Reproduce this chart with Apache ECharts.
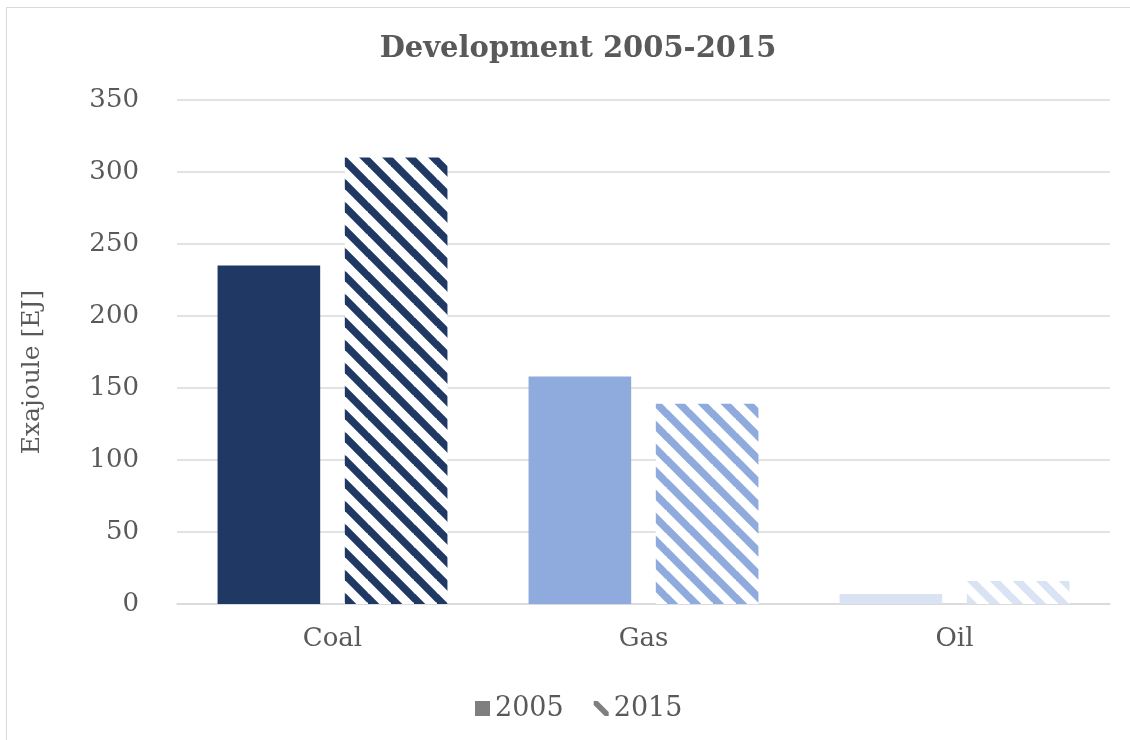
<!DOCTYPE html>
<html>
<head>
<meta charset="utf-8">
<script src="https://cdn.jsdelivr.net/npm/echarts@6/dist/echarts.min.js"></script>
<style>
  html, body { margin: 0; padding: 0; background: #fff; }
  .frame { position: absolute; left: 6px; top: 7px; width: 1200px; height: 800px; border: 1px solid #d9d9d9; }
  #chart { position: absolute; left: 0; top: 0; width: 1130px; height: 740px; }
</style>
</head>
<body>
<div class="frame"></div>
<div id="chart"></div>
<script>
  var categories = ['Coal', 'Gas', 'Oil']
  var values2005 = [235, 158, 7]
  var values2015 = [310, 139, 16]
  var yTicks = { min: 0, max: 350, step: 50 }

  var barColors = ['#203864', '#8faadc', '#dae3f3']
  var fontFamily = '"DejaVu Serif", serif'
  var textColor = '#595959'

  // diagonal hatch "\\\" on white, used for the 2015 bars
  function hatch (color) {
    var p = 23
    var c = document.createElement('canvas')
    c.width = p
    c.height = p
    var ctx = c.getContext('2d')
    ctx.fillStyle = '#fff'
    ctx.fillRect(0, 0, p, p)
    ctx.strokeStyle = color
    ctx.lineWidth = 7.5
    for (var k = -1; k <= 1; k++) {
      ctx.beginPath()
      ctx.moveTo(-2, k * p - 2)
      ctx.lineTo(p + 2, p + k * p + 2)
      ctx.stroke()
    }
    return { image: c, repeat: 'repeat' }
  }

  var myChart = echarts.init(document.getElementById('chart'))
  myChart.setOption({
    animation: false,
    textStyle: { fontFamily: fontFamily, color: textColor },
    title: {
      text: 'Development 2005-2015',
      left: 573,
      top: 30,
      textAlign: 'center',
      textStyle: { fontFamily: fontFamily, fontSize: 29, fontWeight: 'bold', color: textColor }
    },
    legend: {
      left: 470,
      top: 690,
      itemWidth: 15,
      itemHeight: 15,
      itemGap: 30,
      textStyle: { fontFamily: fontFamily, fontSize: 27, color: textColor },
      data: [
        { name: '2005', icon: 'rect', itemStyle: { color: '#7f7f7f' } },
        { name: '2015', icon: 'path://M0,0 L4,0 L15,11 L15,15 L11,15 L0,4 Z', itemStyle: { color: '#7f7f7f' } }
      ]
    },
    grid: { left: 177, right: 20, top: 100, bottom: 136 },
    xAxis: {
      type: 'category',
      data: categories,
      axisLine: { lineStyle: { color: '#d9d9d9', width: 1.5 } },
      axisTick: { show: false },
      axisLabel: { fontFamily: fontFamily, fontSize: 26, color: textColor, margin: 22 }
    },
    yAxis: {
      type: 'value',
      min: yTicks.min,
      max: yTicks.max,
      interval: yTicks.step,
      name: 'Exajoule [EJ]',
      nameLocation: 'middle',
      nameGap: 132,
      nameTextStyle: { fontFamily: fontFamily, fontSize: 25, color: textColor, padding: [0, 40, 0, 0] },
      axisLine: { show: false },
      axisTick: { show: false },
      axisLabel: { fontFamily: fontFamily, fontSize: 26, color: textColor, margin: 38 },
      splitLine: { lineStyle: { color: '#d9d9d9', width: 1.5 } }
    },
    series: [
      {
        name: '2005',
        type: 'bar',
        barWidth: '33%',
        barGap: '24%',
        data: values2005.map(function (v, i) {
          return { value: v, itemStyle: { color: barColors[i] } }
        })
      },
      {
        name: '2015',
        type: 'bar',
        barWidth: '33%',
        data: values2015.map(function (v, i) {
          return { value: v, itemStyle: { color: hatch(barColors[i]) } }
        })
      }
    ]
  })
</script>
</body>
</html>
